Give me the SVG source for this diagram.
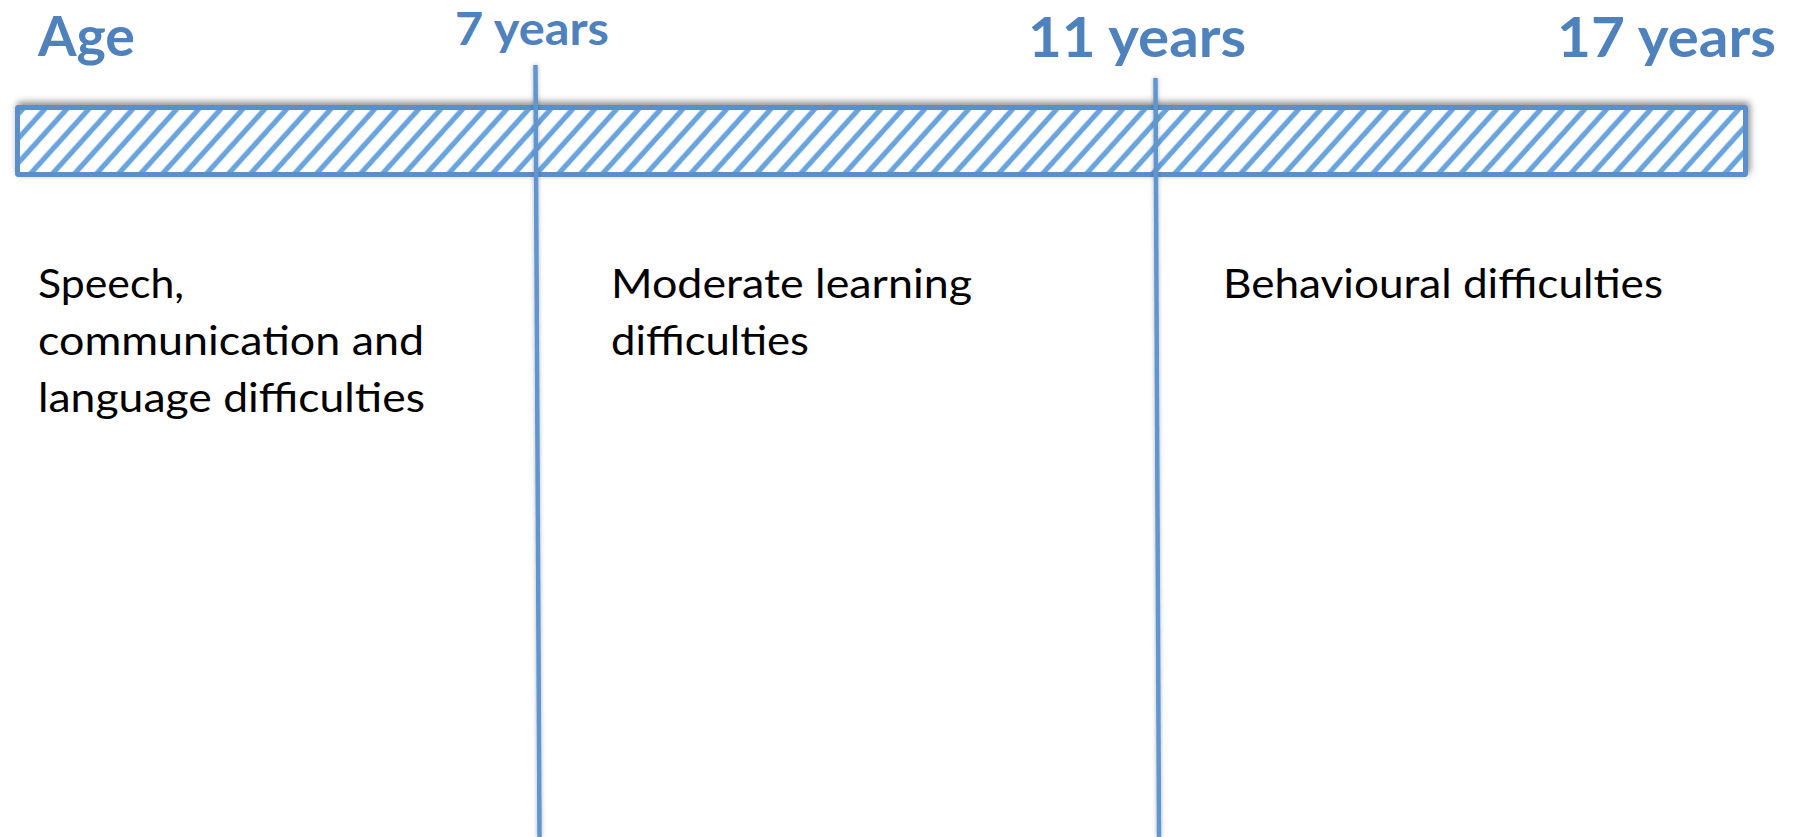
<svg xmlns="http://www.w3.org/2000/svg" width="1796" height="837" viewBox="0 0 1796 837">
  <defs>
    <pattern id="hatch" patternUnits="userSpaceOnUse" x="0" y="0" width="16.35" height="200" patternTransform="rotate(42)">
      <rect x="5.5" y="-1" width="5.2" height="202" fill="#6aa4de"/>
    </pattern>
    <filter id="barShadow" x="-5%" y="-40%" width="110%" height="180%">
      <feDropShadow dx="2" dy="-3" stdDeviation="3.5" flood-color="#000" flood-opacity="0.45"/>
    </filter>
    <filter id="lineShadow" x="-300%" y="-5%" width="700%" height="110%">
      <feDropShadow dx="0" dy="0" stdDeviation="2" flood-color="#000" flood-opacity="0.3"/>
    </filter>
  </defs>
  <style>
    .title { font-family: Lato, "Liberation Sans", sans-serif; font-weight: bold; fill: #4f81bd; }
    .body { font-family: Lato, "Liberation Sans", sans-serif; font-size: 41px; fill: #000; }
    .divider { stroke: #5f96d0; stroke-width: 4.5; fill: none; }
  </style>
  <rect width="1796" height="837" fill="#fff"/>

  <g id="timeline-bar">
    <rect x="17.5" y="107.5" width="1728" height="67" fill="#fff" stroke="#5b8fc9" stroke-width="5" rx="1.5" filter="url(#barShadow)"/>
    <rect x="20" y="110" width="1723" height="62" fill="url(#hatch)"/>
    <rect x="17.5" y="107.5" width="1728" height="67" fill="none" stroke="#5b8fc9" stroke-width="5" rx="1.5"/>
  </g>

  <g id="connectors">
    <line class="divider" x1="535.5" y1="65" x2="539.5" y2="837" filter="url(#lineShadow)"/>
    <line class="divider" x1="1155.5" y1="78" x2="1159" y2="837" filter="url(#lineShadow)"/>
  </g>

  <g id="label-age">
    <text class="title" x="38" y="56" font-size="55" textLength="97" lengthAdjust="spacingAndGlyphs">Age</text>
  </g>
  <g id="label-7">
    <text class="title" x="455" y="45" font-size="46" textLength="154" lengthAdjust="spacingAndGlyphs">7 years</text>
  </g>
  <g id="label-11">
    <text class="title" x="1028" y="57" font-size="55" textLength="218" lengthAdjust="spacingAndGlyphs">11 years</text>
  </g>
  <g id="label-17">
    <text class="title" x="1557" y="57" font-size="55" textLength="219" lengthAdjust="spacingAndGlyphs">17 years</text>
  </g>

  <g id="phase-speech">
    <text class="body" x="38" y="298" textLength="146" lengthAdjust="spacingAndGlyphs">Speech,</text>
    <text class="body" x="38" y="355" textLength="386" lengthAdjust="spacingAndGlyphs">communication and</text>
    <text class="body" x="38" y="412" textLength="387" lengthAdjust="spacingAndGlyphs">language difficulties</text>
  </g>
  <g id="phase-moderate">
    <text class="body" x="611" y="298" textLength="361" lengthAdjust="spacingAndGlyphs">Moderate learning</text>
    <text class="body" x="611" y="355" textLength="198" lengthAdjust="spacingAndGlyphs">difficulties</text>
  </g>
  <g id="phase-behavioural">
    <text class="body" x="1223" y="298" textLength="440" lengthAdjust="spacingAndGlyphs">Behavioural difficulties</text>
  </g>
</svg>
